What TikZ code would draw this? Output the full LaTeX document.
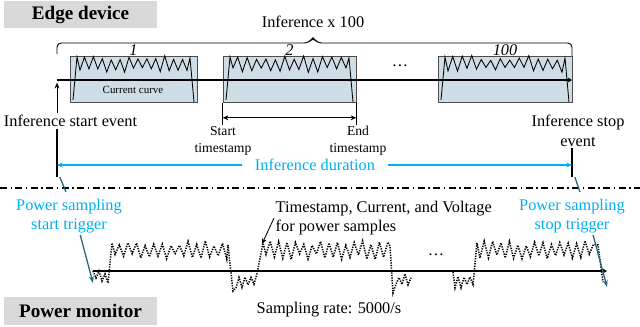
\documentclass[tikz,border=0pt]{standalone}
\usepackage{fontspec}
\setmainfont{Liberation Serif}
\usepackage{tikz}
\usetikzlibrary{arrows.meta, positioning, calc}
\usepackage{xcolor}
\definecolor{cGray}{RGB}{217,217,217}
\definecolor{cCurve}{RGB}{207,221,230}
\definecolor{cCyan}{RGB}{0,176,240}
\definecolor{cTeal}{RGB}{40,100,130}
\newcommand{\mainsize}{\fontsize{11.6}{14}\selectfont}
\newcommand{\smallsize}{\fontsize{9.7}{12}\selectfont}
% zigzag piece: start x, number of steps, step, middle y, amplitude
\newcommand{\zig}[5]{\foreach \k in {0,...,#2}{ -- ({#1+#3*\k},{#4+#5*cos(180*\k)+0.45*#5*rand}) }}
\tikzset{
  titlebox/.style={rectangle, fill=cGray, minimum width=3.825cm,
                   minimum height=0.675cm, font=\fontsize{13.6}{16}\selectfont\bfseries},
  curvebox/.style={rectangle, draw=black!70, fill=cCurve, minimum height=1.15cm,
                   inner sep=0pt},
  lbl/.style={align=center, font=\mainsize, inner sep=1pt},
  cyanlbl/.style={lbl, text=cCyan},
  timeline/.style={-{Stealth[length=3pt,width=3.5pt]}, line width=1.3pt},
  powerline/.style={-{Stealth[length=3pt,width=3.5pt]}, line width=1pt},
  curline/.style={line width=0.6pt},
  powercurve/.style={line width=1.1pt, dash pattern=on 0.9pt off 0.9pt},
  markline/.style={line width=0.9pt},
  bracket/.style={line width=0.7pt, rounded corners=3pt},
  trigline/.style={cTeal, line width=0.9pt},
  trigarrow/.style={trigline, -{Stealth[length=5pt,width=3.5pt]}},
  arrow/.style={-{Stealth[length=4pt,width=3.5pt]}, line width=0.6pt},
  dimarrow/.style={{Stealth[length=4pt,width=3.5pt]}-{Stealth[length=4pt,width=3.5pt]}, line width=0.6pt},
  cyanarrow/.style={-{Stealth[length=4pt,width=3.5pt]}, cCyan, line width=1pt},
  sepline/.style={line width=1.1pt, dash pattern=on 5pt off 2.5pt on 1pt off 2.5pt}
}

\begin{document}
\begin{tikzpicture}[x=0.025cm, y=-0.025cm]
  \useasboundingbox (0,0) rectangle (640,327);
  \pgfmathsetseed{11}

  % edge device
  \node[titlebox] (edge) at (80.5,15) {Edge device};
  \coordinate (t0) at (57,80);
  \coordinate (t1) at (572,80);

  \foreach \bx/\ex/\n in {70/197/1, 223/356/2, 438/572/100}{
    \pgfmathsetmacro{\bw}{(\ex-\bx)*0.025}
    \pgfmathsetmacro{\st}{(\ex-\bx-20)/24}
    \node[curvebox, minimum width=\bw cm] (inf\n) at ({(\bx+\ex)/2},79.5) {};
    \draw[curline] ({\bx+3},100) -- ({\bx+7},57) \zig{\bx+10}{24}{\st}{64}{6}
      -- ({\ex-7},58) -- ({\ex-3},102);
    \node[font=\mainsize\itshape] (num\n) at ({(\bx+\ex)/2},50) {\n};
  }
  \node[font=\fontsize{7.8}{9}\selectfont] (curlbl) at (133,90) {Current curve};
  \node[lbl] (dotsA) at (400,66) {\dots};
  \draw[timeline] (t0) -- (t1);

  \node[lbl] (infx) at (313,22) {Inference x 100};
  \draw[bracket] (57,54) -- (57,43) -- (309,43) -- (313,37) -- (317,43)
    -- (572,43) -- (572,56);

  \node[lbl] (startev) at (70.5,121) {Inference start event};
  \coordinate (s0) at (57,177);
  \draw[arrow] (startev.north -| t0) -- ([yshift=-2pt]t0);
  \draw[markline] (startev.south -| t0) -- (s0);

  \node[lbl] (stopev) at (578,131) {Inference stop\\event};
  \coordinate (e0) at (572,177);
  \draw[markline] (stopev.south -| t1) -- (e0);

  \node[lbl, font=\smallsize] (tsstart) at (223,141) {Start\\timestamp};
  \node[lbl, font=\smallsize] (tsend) at (358,141) {End\\timestamp};
  \draw (inf2.south west) -- (tsstart.north -| inf2.south west);
  \draw (inf2.south east) -- (tsend.north -| inf2.south east);
  \draw[dimarrow] ($(inf2.south west)+(0,15)$) -- ($(inf2.south east)+(0,15)$);

  \node[cyanlbl, inner xsep=9pt] (dur) at (315,165) {Inference duration};
  \draw[cyanarrow] (dur.west) -- (dur.west -| t0);
  \draw[cyanarrow] (dur.east) -- (dur.east -| t1);

  \draw[sepline] (0,188) -- (640,188);

  % power monitor
  \node[cyanlbl] (trigstart) at (69,216) {Power sampling\\start trigger};
  \node[cyanlbl] (trigstop) at (572,216) {Power sampling\\stop trigger};
  \coordinate (sA) at (66,192);
  \coordinate (eA) at (580,192);
  \coordinate (ps0) at (93,283);
  \coordinate (pe0) at (607,287);
  \draw[trigline] ([xshift=2pt]s0) -- (sA);
  \draw[trigline] ([xshift=2pt]e0) -- (eA);

  \coordinate (p0) at (93,271);
  \coordinate (p1) at (607,271);
  \draw[powerline] (p0) -- (p1);
  \draw[powercurve] (p0) -- (96,278) -- (99,271) -- (102,281) -- (105,274) -- (108,283) -- (112,243)
    \zig{115}{26}{4.3}{250}{6.5} -- (228,245) -- (233,291)
    \zig{236}{7}{3}{281}{5} -- (263,243)
    \zig{266}{29}{4.2}{250}{6.5} -- (390,246) -- (393,293)
    \zig{396}{5}{3}{281}{5};
  \draw[powercurve] (453,272) \zig{455}{6}{3}{281}{5} -- (477,243)
    \zig{480}{27}{4.2}{250}{6.5} -- (598,245) -- (603,282);
  \node[lbl] (dotsB) at (436,255) {\dots};

  \draw[trigarrow] ([xshift=8pt]trigstart.south) -- (ps0);
  \draw[trigarrow] ([xshift=15pt]trigstop.south) -- (pe0);

  \node[lbl, align=left, anchor=west] (tsnote) at (274,218)
      {Timestamp, Current, and Voltage\\for power samples};
  \coordinate (tsptr) at (262,244);
  \draw[arrow] (tsnote.west) -- (tsptr);

  \node[titlebox] (monitor) at (80.5,311) {Power monitor};
  \node[lbl] (rate) at (329,310) {Sampling rate: 5000/s};

\end{tikzpicture}
\end{document}
